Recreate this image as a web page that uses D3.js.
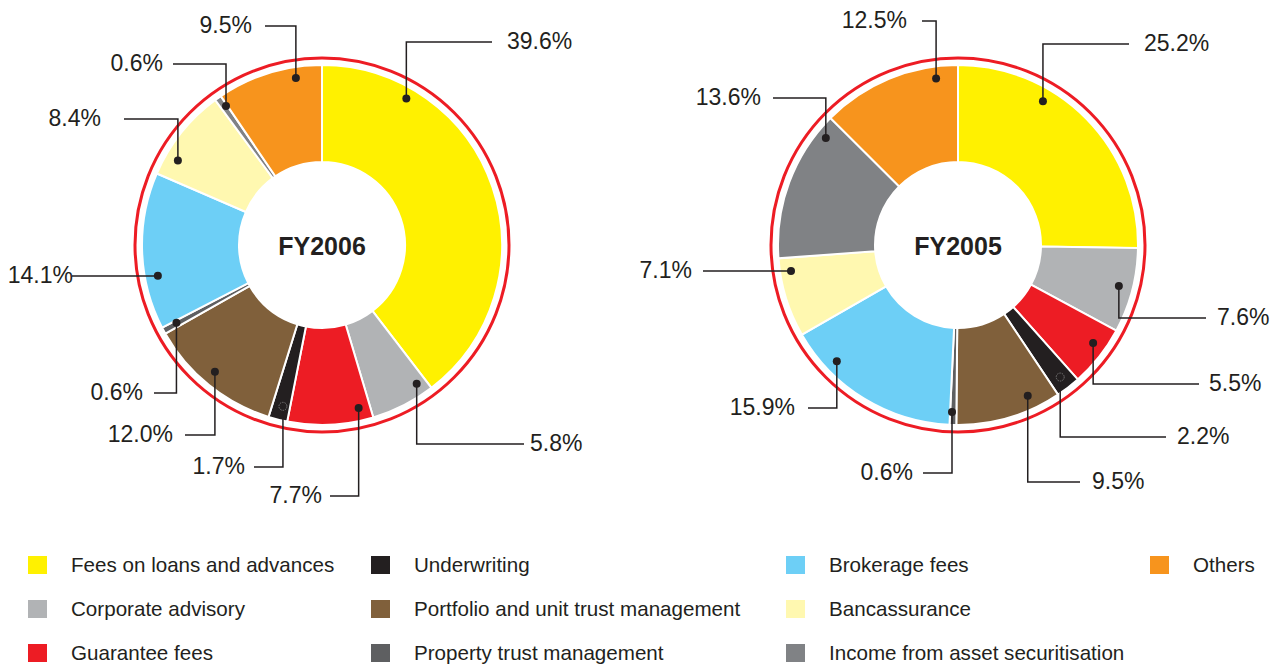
<!DOCTYPE html>
<html>
<head>
<meta charset="utf-8">
<script src="https://cdn.jsdelivr.net/npm/d3@7"></script>
<style>
  body { margin: 0; background: #fff; }
  text { font-family: "Liberation Sans", Arial, Helvetica, sans-serif; fill: #231f20; }
</style>
</head>
<body>
<svg id="svgMain" width="1281" height="665"></svg>
<script>
// categories, clockwise from 12 o'clock
const categories = [
    "Fees on loans and advances",
    "Corporate advisory",
    "Guarantee fees",
    "Underwriting",
    "Portfolio and unit trust management",
    "Property trust management",
    "Brokerage fees",
    "Bancassurance",
    "Income from asset securitisation",
    "Others"
];

const colors = ["#fff100", "#b1b3b5", "#ed1c24", "#231f20", "#80603b",
                "#5e5f61", "#6dcff6", "#fff8b0", "#808285", "#f7941d"];

const years = ["FY2006", "FY2005"];
const values2006 = [39.6, 5.8, 7.7, 1.7, 12.0, 0.6, 14.1, 8.4, 0.6, 9.5];
const values2005 = [25.2, 7.6, 5.5, 2.2, 9.5, 0.6, 15.9, 7.1, 13.6, 12.5];

// callout layout: where the dot sits in its slice (fraction of slice angle, radius),
// the leader's horizontal y, where the leader stops and where the text goes (relative to centre)
const dotT2006 = [0.21, 0.15, 0.14, 0.40, 0.53, 0.66, 0.33, 0.23, 0.81, 0.74];
const dotR2006 = [169, 168, 167, 166, 166, 165, 167, 167, 169, 169];
const lineY2006 = [-203, 199, 251, 222, 190, 148, 31, -126, -181, -219];
const lineX2006 = [170, 202, 8, -68, -137, -168, -250, -198, -149, -57];
const textX2006 = [185, 208, 0, -77, -149, -179, -249, -221, -159, -70];

const dotT2005 = [0.336, 0.485, 0.38, 0.50, 0.26, 0.70, 0.757, 0.82, 0.88, 0.834];
const dotR2005 = [167, 166, 167, 167, 166, 167, 168, 169, 170, 168];
const lineY2005 = [-201, 73, 139, 192, 237, 228, 163, 26, -147, -224];
const lineX2005 = [171, 248, 241, 208, 122, -35, -150, -255, -185, -36];
const textX2005 = [186, 259, 251, 219, 134, -45, -163, -266, -197, -51];

let svgMain = d3.select("#svgMain");

const innerR = 83, outerR = 180, ringR = 187;

const pie = d3.pie().sort(null).value(d => d);
const arc = d3.arc().innerRadius(innerR).outerRadius(outerR);

const charts = [
    { year: years[0], values: values2006, cx: 322, cy: 245, dotT: dotT2006, dotR: dotR2006, lineY: lineY2006, lineX: lineX2006, textX: textX2006 },
    { year: years[1], values: values2005, cx: 958, cy: 245, dotT: dotT2005, dotR: dotR2005, lineY: lineY2005, lineX: lineX2005, textX: textX2005 }
];

charts.forEach(c => {
    const g = svgMain.append("g")
        .attr("transform", "translate(" + c.cx + "," + c.cy + ")");

    //red ring
    g.append("circle")
        .attr("r", ringR)
        .style("fill", "none")
        .style("stroke", "#ed1c24")
        .style("stroke-width", 3);

    const arcs = pie(c.values);

    g.selectAll("path.slice")
        .data(arcs)
        .enter().append("path")
        .attr("class", "slice")
        .attr("d", arc)
        .style("fill", (d, i) => colors[i])
        .style("stroke", "#fff")
        .style("stroke-width", 2);

    //callouts
    arcs.forEach((d, i) => {
        const a = d.startAngle + c.dotT[i] * (d.endAngle - d.startAngle);
        const px = c.dotR[i] * Math.sin(a);
        const py = -c.dotR[i] * Math.cos(a);
        const ly = c.lineY[i];
        const lx = c.lineX[i];

        g.append("path")
            .attr("d", d3.line()([[px, py], [px, ly], [lx, ly]]))
            .style("fill", "none")
            .style("stroke", "#231f20")
            .style("stroke-width", 1.5);

        if (colors[i] === "#231f20") {
            // dot inside the black slice only shows as a faint ring
            g.append("circle")
                .attr("cx", px).attr("cy", py).attr("r", 4)
                .style("fill", "none")
                .style("stroke", "#888")
                .style("stroke-width", 0.8)
                .style("stroke-dasharray", "1.5,1");
        } else {
            g.append("circle")
                .attr("cx", px).attr("cy", py).attr("r", 4)
                .style("fill", "#231f20");
        }

        const right = lx > px;
        g.append("text")
            .attr("x", c.textX[i])
            .attr("y", ly + 7)
            .attr("text-anchor", right ? "start" : "end")
            .attr("font-size", "23px")
            .text(c.values[i].toFixed(1) + "%");
    });

    //year in the middle
    g.append("text")
        .attr("x", 0)
        .attr("y", 10)
        .attr("text-anchor", "middle")
        .attr("font-size", "25px")
        .attr("font-weight", "bold")
        .text(c.year);
});

//Legend, 3 rows per column
const legendColX = [28, 371, 786, 1150];
const legendRowY = [565, 609, 653];

const legend = svgMain.append("g").attr("class", "legend");
categories.forEach((cat, i) => {
    const col = Math.floor(i / 3), row = i % 3;
    const x = legendColX[col], y = legendRowY[row];
    legend.append("rect")
        .attr("x", x)
        .attr("y", y - 9)
        .attr("width", 19)
        .attr("height", 18)
        .style("fill", colors[i]);
    legend.append("text")
        .attr("x", x + 43)
        .attr("y", y + 7)
        .attr("font-size", "20.6px")
        .text(cat);
});
</script>
</body>
</html>
